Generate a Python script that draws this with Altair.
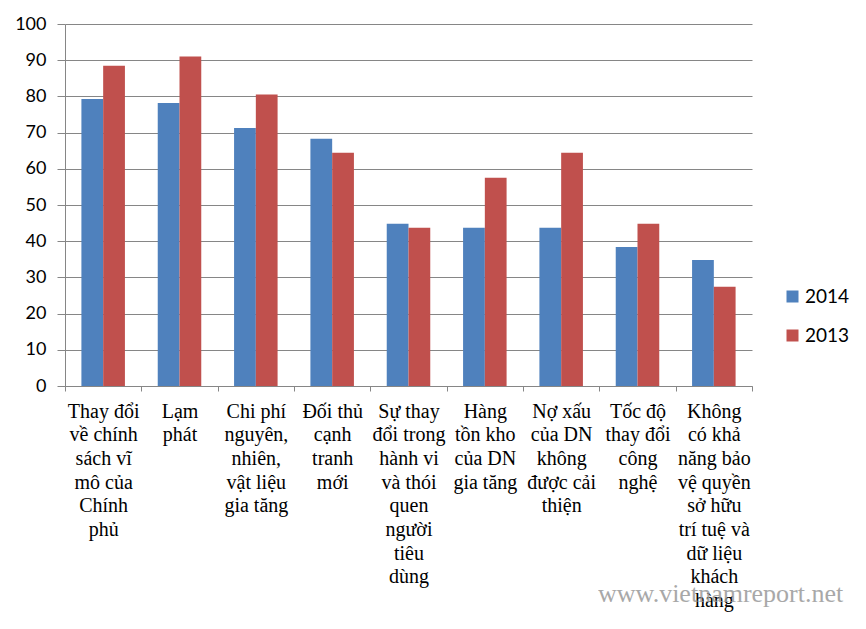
import altair as alt
import pandas as pd

categories = [
    "Thay đổi\nvề chính\nsách vĩ\nmô của\nChính\nphủ",
    "Lạm\nphát",
    "Chi phí\nnguyên,\nnhiên,\nvật liệu\ngia tăng",
    "Đối thủ\ncạnh\ntranh\nmới",
    "Sự thay\nđổi trong\nhành vi\nvà thói\nquen\nngười\ntiêu\ndùng",
    "Hàng\ntồn kho\ncủa DN\ngia tăng",
    "Nợ xấu\ncủa DN\nkhông\nđược cải\nthiện",
    "Tốc độ\nthay đổi\ncông\nnghệ",
    "Không\ncó khả\nnăng bảo\nvệ quyền\nsở hữu\ntrí tuệ và\ndữ liệu\nkhách\nhàng",
]
series_names = ["2014", "2013"]
values_2014 = [79.3, 78.2, 71.3, 68.3, 44.8, 43.7, 43.7, 38.4, 34.8]
values_2013 = [88.5, 91.0, 80.5, 64.4, 43.7, 57.5, 64.4, 44.8, 27.4]
y_ticks = [0, 10, 20, 30, 40, 50, 60, 70, 80, 90, 100]
colors = ["#4F81BD", "#C0504D"]
watermark = "www.vietnamreport.net"

rows = []
for c, a, b in zip(categories, values_2014, values_2013):
    rows.append({"cat": c, "year": "2014", "val": a})
    rows.append({"cat": c, "year": "2013", "val": b})
df = pd.DataFrame(rows)

grid = "#868686"

bars = alt.Chart(df).mark_bar().encode(
    x=alt.X(
        "cat:N",
        sort=categories,
        title=None,
        scale=alt.Scale(paddingInner=0, paddingOuter=0),
        axis=alt.Axis(
            labelAngle=0,
            labelExpr="split(datum.label, '\\n')",
            labelFont="Liberation Serif",
            labelFontSize=20,
            labelLineHeight=23.7,
            labelColor="#000000",
            labelBaseline="top",
            labelPadding=10,
            labelLimit=0,
            tickBand="extent",
            tickSize=5,
            tickColor=grid,
            domainColor=grid,
            grid=False,
        ),
    ),
    xOffset=alt.XOffset(
        "year:N",
        sort=series_names,
        scale=alt.Scale(domain=series_names, paddingInner=0, paddingOuter=0.754),
    ),
    y=alt.Y(
        "val:Q",
        title=None,
        scale=alt.Scale(domain=[0, 100], nice=False),
        axis=alt.Axis(
            values=y_ticks,
            grid=True,
            gridColor=grid,
            gridOpacity=1,
            tickColor=grid,
            tickSize=8,
            domainColor=grid,
            labelFont="Lato",
            labelFontSize=18,
            labelColor="#000000",
            labelPadding=11,
        ),
    ),
    color=alt.Color(
        "year:N",
        sort=series_names,
        scale=alt.Scale(domain=series_names, range=colors),
        legend=alt.Legend(
            title=None,
            orient="none",
            legendX=718,
            legendY=263,
            symbolType="square",
            symbolSize=144,
            symbolStrokeWidth=0,
            labelFont="Lato",
            labelFontSize=19,
            labelColor="#000000",
            labelOffset=3,
            rowPadding=19,
        ),
    ),
)

wm = alt.Chart(pd.DataFrame({"t": [watermark]})).mark_text(
    font="Liberation Serif",
    fontSize=26,
    color="#9a9a9a",
    opacity=0.85,
    align="left",
    baseline="alphabetic",
).encode(
    text="t:N",
    x=alt.value(533),
    y=alt.value(578),
)

chart = (
    alt.layer(bars, wm)
    .properties(
        width=687,
        height=362,
        autosize=alt.AutoSizeParams(type="none"),
        padding={"left": 57, "top": 16, "right": 106, "bottom": 235},
        background="white",
    )
    .configure_view(strokeWidth=0)
)

chart.save("out.html", embed_options={"renderer": "svg", "actions": False})
